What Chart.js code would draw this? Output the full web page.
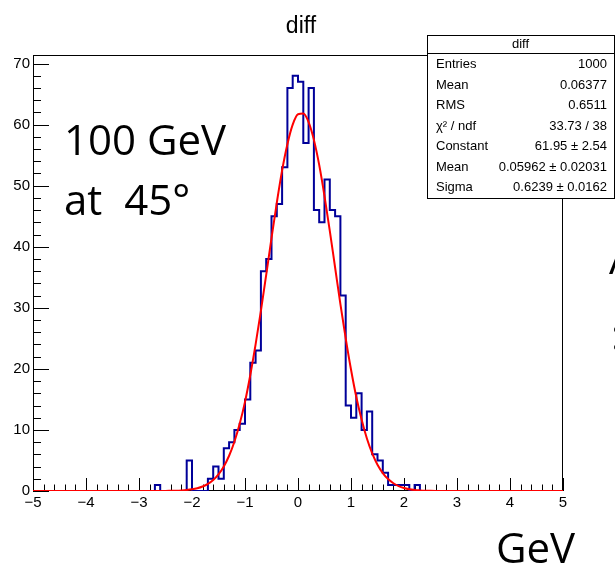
<!DOCTYPE html>
<html>
<head>
<meta charset="utf-8">
<script src="https://cdn.jsdelivr.net/npm/chart.js@4.4.1/dist/chart.umd.min.js"></script>
<style>
  html, body { margin: 0; padding: 0; background: #fff; }
  canvas { display: block; }
</style>
</head>
<body>
<canvas id="diffChart" width="615" height="570"></canvas>
<script>
// histogram: 100 bins from -5 to 5
const xMin = -5, xMax = 5, binWidth = 0.1;
const counts = [
  0, 0, 0, 0, 0, 0, 0, 0, 0, 0,
  0, 0, 0, 0, 0, 0, 0, 0, 0, 0,
  0, 0, 0, 1, 0, 0, 0, 0, 0, 5,
  0, 0, 0, 2, 4, 2, 7, 8, 10, 11,
  15, 21, 23, 36, 38, 45, 47, 53, 66, 68,
  67, 57, 66, 46, 44, 51, 46, 45, 32, 14,
  12, 16, 10, 13, 6, 5, 3, 1, 1, 1,
  1, 0, 1, 0, 0, 0, 0, 0, 0, 0,
  0, 0, 0, 0, 0, 0, 0, 0, 0, 0,
  0, 0, 0, 0, 0, 0, 0, 0, 0, 0
];

// gaussian fit curve
const fitX = [-5, -2.5, -2.4, -2.3, -2.2, -2.1, -2.0, -1.9, -1.8, -1.7, -1.6, -1.5, -1.4, -1.3, -1.2,
  -1.1, -1.0, -0.9, -0.8, -0.7, -0.6, -0.5, -0.4, -0.3, -0.2, -0.1, 0.0, 0.1, 0.2, 0.3, 0.4,
  0.5, 0.6, 0.7, 0.8, 0.9, 1.0, 1.1, 1.2, 1.3, 1.4, 1.5, 1.6, 1.7, 1.8, 1.9, 2.0, 2.1, 2.2,
  2.3, 2.4, 2.5, 2.6, 5];
const fitY = [0, 0.01, 0.03, 0.05, 0.09, 0.16, 0.27, 0.45, 0.73, 1.16, 1.80, 2.72, 4.01, 5.77, 8.07,
  11.0, 14.6, 19.0, 24.0, 29.5, 35.4, 41.4, 47.2, 52.5, 56.8, 60.0, 61.7, 61.8, 60.4, 57.5, 53.4,
  48.3, 42.6, 36.6, 30.6, 25.0, 19.9, 15.4, 11.7, 8.59, 6.16, 4.31, 2.94, 1.95, 1.27, 0.80, 0.49, 0.29, 0.17,
  0.10, 0.05, 0.03, 0.02, 0];

const xTicks = [-5, -4, -3, -2, -1, 0, 1, 2, 3, 4, 5];
const yTicks = [0, 10, 20, 30, 40, 50, 60, 70];
const yMax = 71.4;

const statsTitle = 'diff';
const statsLabels = ['Entries', 'Mean', 'RMS', 'χ² / ndf', 'Constant', 'Mean', 'Sigma'];
const statsValues = ['1000', '0.06377', '0.6511', '33.73 / 38', '61.95 ± 2.54', '0.05962 ± 0.02031', '0.6239 ± 0.0162'];

const histPoints = counts.map((c, i) => ({ x: xMin + i * binWidth, y: c }));
histPoints.push({ x: xMax, y: counts[counts.length - 1] });
const fitPoints = fitX.map((x, i) => ({ x: x, y: fitY[i] }));

const helv = '"Liberation Sans", Arial, sans-serif';
const slideFont = '"Open Sans", sans-serif';

const rootDecor = {
  id: 'rootDecor',
  beforeDatasetsDraw(chart) {
    const { ctx, chartArea: a, scales: { x, y } } = chart;
    ctx.save();
    ctx.strokeStyle = '#000';
    ctx.lineWidth = 1;
    ctx.strokeRect(a.left + 0.5, a.top + 0.5, a.right - a.left - 1, a.bottom - a.top - 1);
    ctx.beginPath();
    for (let i = 0; i < xTicks.length; i++) {
      let px = Math.round(x.getPixelForValue(xTicks[i])) + 0.5;
      ctx.moveTo(px, a.bottom); ctx.lineTo(px, a.bottom - 13);
      if (i < xTicks.length - 1) {
        for (let k = 1; k < 5; k++) {
          const v = xTicks[i] + (xTicks[i + 1] - xTicks[i]) * k / 5;
          px = Math.round(x.getPixelForValue(v)) + 0.5;
          ctx.moveTo(px, a.bottom); ctx.lineTo(px, a.bottom - 6.5);
        }
      }
    }
    for (let i = 0; i < yTicks.length; i++) {
      let py = Math.round(y.getPixelForValue(yTicks[i])) + 0.5;
      ctx.moveTo(a.left, py); ctx.lineTo(a.left + 16, py);
      const step = i < yTicks.length - 1 ? yTicks[i + 1] - yTicks[i] : yTicks[i] - yTicks[i - 1];
      for (let k = 1; k < 5; k++) {
        const v = yTicks[i] + step * k / 5;
        if (v > yMax) break;
        py = Math.round(y.getPixelForValue(v)) + 0.5;
        ctx.moveTo(a.left, py); ctx.lineTo(a.left + 8, py);
      }
    }
    ctx.stroke();
    ctx.restore();
  },
  afterDraw(chart) {
    const { ctx } = chart;
    ctx.save();
    // title
    ctx.fillStyle = '#000';
    ctx.font = '23px ' + helv;
    ctx.textAlign = 'center';
    ctx.textBaseline = 'alphabetic';
    ctx.fillText('diff', 301, 33);

    // stats box
    const bx = 427, by = 35, bw = 187, bh = 163;
    ctx.fillStyle = '#fff';
    ctx.fillRect(bx, by, bw, bh);
    ctx.strokeStyle = '#000';
    ctx.lineWidth = 1;
    ctx.strokeRect(bx + 0.5, by + 0.5, bw, bh);
    ctx.beginPath();
    ctx.moveTo(bx, 53.5); ctx.lineTo(bx + bw, 53.5);
    ctx.stroke();
    ctx.fillStyle = '#000';
    ctx.font = '13px ' + helv;
    ctx.textBaseline = 'middle';
    ctx.textAlign = 'center';
    ctx.fillText(statsTitle, bx + bw / 2, 44.5);
    statsLabels.forEach((lab, i) => {
      const ry = 64.5 + i * 20.5;
      ctx.textAlign = 'left';
      ctx.fillText(lab, 436, ry);
      ctx.textAlign = 'right';
      ctx.fillText(statsValues[i], 607, ry);
    });

    // slide annotations
    ctx.font = '42px ' + slideFont;
    ctx.textAlign = 'left';
    ctx.textBaseline = 'alphabetic';
    ctx.fillText('100 GeV', 64, 155);
    ctx.fillText('at  45°', 64, 215);
    ctx.fillText('GeV', 496, 563);
    ctx.fillText('A', 609, 274);
    ctx.fillText(':', 611, 350);
    ctx.restore();
  }
};

new Chart(document.getElementById('diffChart'), {
  type: 'line',
  data: {
    datasets: [
      {
        data: fitPoints,
        borderColor: '#ff0000',
        borderWidth: 2,
        pointRadius: 0,
        cubicInterpolationMode: 'monotone',
        fill: false
      },
      {
        data: histPoints,
        borderColor: '#000099',
        borderWidth: 2,
        pointRadius: 0,
        stepped: true,
        fill: false
      }
    ]
  },
  options: {
    responsive: false,
    animation: false,
    layout: { padding: { top: 55, right: 52, left: 0, bottom: 0 } },
    plugins: {
      legend: { display: false },
      tooltip: { enabled: false },
      title: { display: false }
    },
    scales: {
      x: {
        type: 'linear',
        min: xMin,
        max: xMax,
        grid: { display: false, drawTicks: false },
        border: { display: false },
        afterBuildTicks: s => { s.ticks = xTicks.map(v => ({ value: v })); },
        afterFit: s => { s.height = 79; },
        ticks: {
          padding: 3,
          color: '#000',
          font: { family: helv, size: 15 },
          maxRotation: 0,
          autoSkip: false,
          callback: v => String(v).replace('-', '\u2212')
        }
      },
      y: {
        type: 'linear',
        min: 0,
        max: yMax,
        grid: { display: false, drawTicks: false },
        border: { display: false },
        afterBuildTicks: s => { s.ticks = yTicks.map(v => ({ value: v })); },
        afterFit: s => { s.width = 33; },
        ticks: {
          padding: 3,
          color: '#000',
          font: { family: helv, size: 15 },
          autoSkip: false
        }
      }
    }
  },
  plugins: [rootDecor]
});
</script>
</body>
</html>
